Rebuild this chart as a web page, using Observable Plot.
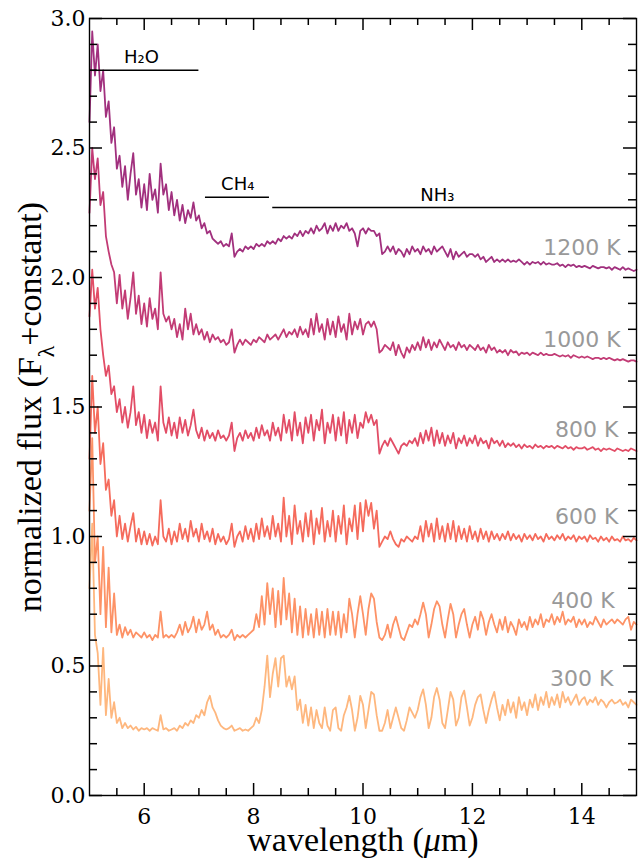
<!DOCTYPE html>
<html><head><meta charset="utf-8">
<script src="https://cdn.jsdelivr.net/npm/d3@7"></script>
<script src="https://cdn.jsdelivr.net/npm/@observablehq/plot@0.6"></script>
<style>body{margin:0;background:#fff;} svg{display:block}</style>
</head><body><div id="chart"></div>
<script>
// ---- data ----
const temperatures = ["1200 K","1000 K","800 K","600 K","400 K","300 K"];
// sampling grid: 5.00 ... 15.00 µm every 0.05 µm (201 samples)
const wavelength = d3.range(201).map(i => +(5 + i * 0.05).toFixed(2));

const flux1200 = [
2.60,2.95,2.78,2.90,2.72,2.80,2.62,2.68,2.52,2.58,
2.42,2.47,2.35,2.43,2.30,2.40,2.48,2.32,2.38,2.27,
2.36,2.26,2.40,2.30,2.34,2.25,2.44,2.32,2.36,2.26,
2.33,2.24,2.30,2.22,2.28,2.21,2.26,2.23,2.29,2.22,
2.24,2.19,2.21,2.17,2.18,2.15,2.14,2.13,2.14,2.12,
2.13,2.12,2.17,2.08,2.10,2.11,2.10,2.12,2.11,2.12,
2.11,2.13,2.12,2.13,2.12,2.14,2.13,2.14,2.13,2.15,
2.14,2.16,2.15,2.16,2.15,2.17,2.16,2.18,2.16,2.18,
2.17,2.19,2.17,2.20,2.18,2.19,2.21,2.17,2.20,2.18,
2.21,2.18,2.20,2.19,2.21,2.18,2.19,2.17,2.12,2.18,
2.19,2.17,2.19,2.18,2.18,2.16,2.17,2.09,2.10,2.12,
2.10,2.12,2.09,2.11,2.10,2.08,2.11,2.09,2.12,2.10,
2.11,2.09,2.12,2.10,2.11,2.09,2.12,2.10,2.11,2.12,
2.10,2.08,2.11,2.07,2.10,2.08,2.09,2.10,2.08,2.09,
2.09,2.08,2.09,2.07,2.08,2.06,2.07,2.08,2.06,2.07,
2.06,2.07,2.06,2.07,2.06,2.065,2.06,2.07,2.06,2.05,
2.06,2.05,2.06,2.055,2.06,2.05,2.06,2.05,2.055,2.05,
2.05,2.055,2.045,2.05,2.04,2.05,2.045,2.05,2.04,2.045,
2.04,2.045,2.04,2.035,2.045,2.04,2.035,2.04,2.04,2.035,
2.04,2.03,2.04,2.035,2.03,2.04,2.03,2.035,2.03,2.025,
2.03];

const flux1000 = [
2.25,2.50,2.38,2.46,2.28,2.33,2.16,2.10,2.05,2.02,
1.90,2.01,1.88,1.95,1.84,1.92,2.02,1.86,1.93,1.82,
1.90,1.81,1.92,1.84,1.88,1.80,2.02,1.86,1.83,1.85,
1.80,1.84,1.77,1.82,1.76,1.88,1.80,1.86,1.78,1.82,
1.78,1.80,1.76,1.79,1.75,1.78,1.76,1.77,1.75,1.76,
1.74,1.75,1.80,1.71,1.74,1.76,1.74,1.76,1.75,1.74,
1.76,1.75,1.77,1.76,1.75,1.78,1.76,1.77,1.78,1.76,
1.78,1.80,1.77,1.79,1.78,1.80,1.77,1.81,1.78,1.80,
1.77,1.84,1.78,1.86,1.79,1.82,1.76,1.84,1.78,1.83,
1.77,1.85,1.79,1.82,1.76,1.86,1.78,1.83,1.80,1.84,
1.78,1.82,1.83,1.81,1.83,1.80,1.71,1.72,1.74,1.73,
1.72,1.75,1.70,1.74,1.71,1.69,1.73,1.71,1.74,1.72,
1.75,1.72,1.77,1.73,1.76,1.72,1.75,1.73,1.76,1.74,
1.72,1.75,1.73,1.74,1.72,1.75,1.73,1.74,1.72,1.74,
1.73,1.72,1.74,1.72,1.73,1.71,1.74,1.72,1.73,1.71,
1.72,1.71,1.72,1.70,1.72,1.71,1.715,1.70,1.71,1.705,
1.71,1.70,1.71,1.705,1.70,1.71,1.70,1.705,1.70,1.70,
1.705,1.70,1.695,1.70,1.695,1.70,1.69,1.70,1.695,1.69,
1.695,1.69,1.695,1.69,1.685,1.69,1.69,1.685,1.69,1.685,
1.69,1.685,1.68,1.685,1.68,1.685,1.68,1.675,1.68,1.68,
1.675];

const flux800 = [
1.85,2.03,1.88,1.96,1.80,1.70,1.62,1.66,1.55,1.58,
1.48,1.53,1.44,1.50,1.42,1.48,1.58,1.43,1.48,1.40,
1.47,1.38,1.45,1.40,1.44,1.37,1.58,1.44,1.40,1.46,
1.39,1.44,1.38,1.46,1.40,1.45,1.39,1.43,1.49,1.41,
1.38,1.42,1.37,1.41,1.38,1.40,1.37,1.41,1.38,1.39,
1.37,1.39,1.44,1.33,1.38,1.40,1.37,1.41,1.38,1.40,
1.37,1.42,1.38,1.43,1.39,1.41,1.37,1.44,1.39,1.42,
1.37,1.47,1.40,1.45,1.37,1.48,1.39,1.44,1.36,1.46,
1.40,1.47,1.37,1.45,1.41,1.49,1.36,1.44,1.40,1.47,
1.37,1.46,1.39,1.48,1.36,1.45,1.40,1.47,1.38,1.44,
1.42,1.48,1.44,1.47,1.43,1.45,1.32,1.35,1.37,1.35,
1.38,1.36,1.34,1.32,1.35,1.36,1.35,1.37,1.36,1.38,
1.35,1.40,1.36,1.41,1.37,1.42,1.35,1.41,1.36,1.40,
1.35,1.39,1.36,1.40,1.34,1.38,1.36,1.39,1.35,1.38,
1.36,1.39,1.35,1.38,1.36,1.37,1.34,1.38,1.36,1.37,
1.35,1.37,1.345,1.36,1.35,1.36,1.345,1.355,1.34,1.355,
1.345,1.35,1.34,1.355,1.345,1.35,1.34,1.35,1.345,1.35,
1.34,1.35,1.345,1.34,1.35,1.34,1.345,1.335,1.345,1.34,
1.34,1.345,1.335,1.34,1.345,1.335,1.34,1.33,1.34,1.335,
1.34,1.335,1.33,1.34,1.335,1.33,1.335,1.33,1.34,1.335,
1.33];

const flux600 = [
1.30,1.62,1.40,1.50,1.28,1.36,1.18,1.22,1.08,1.14,
1.00,1.08,0.99,1.05,0.98,1.04,1.09,0.98,1.03,0.97,
1.02,0.97,1.01,0.965,1.00,0.97,1.14,1.00,0.98,1.03,
0.97,1.02,0.98,1.05,0.99,1.03,0.98,1.06,1.00,1.03,
0.98,1.05,0.99,1.02,0.98,1.03,0.97,1.01,0.98,1.00,
0.97,0.99,1.05,0.96,1.00,1.02,0.98,1.04,0.99,1.03,
0.98,1.05,0.99,1.07,1.00,1.04,0.99,1.08,1.00,1.05,
0.98,1.15,1.00,1.08,0.97,1.12,1.01,1.06,0.98,1.09,
1.00,1.10,0.97,1.07,1.01,1.11,0.98,1.06,1.00,1.10,
0.98,1.08,1.01,1.12,0.97,1.07,1.02,1.12,0.99,1.13,
1.02,1.14,1.08,1.13,1.03,1.10,0.96,0.98,1.00,0.99,
1.02,0.99,0.97,0.96,0.99,0.98,1.00,0.99,0.98,1.00,
0.99,1.04,0.98,1.06,1.00,1.05,0.98,1.07,0.99,1.04,
0.98,1.05,0.99,1.06,0.98,1.04,0.99,1.03,0.98,1.04,
0.99,1.02,0.98,1.03,0.99,1.02,0.98,1.02,0.99,1.01,
0.985,1.01,0.99,1.02,0.985,1.01,0.99,1.005,0.98,1.01,
0.99,1.005,0.985,1.01,0.99,1.00,0.98,1.01,0.99,1.00,
0.985,1.005,0.99,1.01,0.985,1.00,0.99,1.005,0.98,1.00,
0.99,1.00,0.98,1.005,0.99,0.995,0.98,1.00,0.985,0.995,
0.98,1.00,0.985,0.99,0.98,1.00,0.985,0.99,0.98,0.995,
0.985];

const flux400 = [
1.10,1.38,0.90,1.00,0.70,0.96,0.65,0.88,0.63,0.78,
0.62,0.66,0.61,0.65,0.62,0.64,0.61,0.63,0.62,0.61,
0.63,0.61,0.62,0.60,0.62,0.61,0.71,0.61,0.62,0.61,
0.62,0.61,0.63,0.66,0.62,0.67,0.63,0.65,0.69,0.63,
0.68,0.64,0.66,0.71,0.64,0.66,0.62,0.64,0.61,0.62,
0.61,0.62,0.64,0.60,0.62,0.61,0.62,0.61,0.62,0.63,
0.64,0.70,0.65,0.77,0.66,0.82,0.70,0.80,0.65,0.79,
0.66,0.84,0.68,0.78,0.63,0.76,0.62,0.73,0.61,0.72,
0.62,0.70,0.61,0.72,0.62,0.71,0.61,0.72,0.62,0.71,
0.62,0.71,0.61,0.70,0.63,0.76,0.70,0.61,0.70,0.77,
0.70,0.62,0.72,0.78,0.76,0.67,0.61,0.60,0.62,0.66,
0.61,0.66,0.69,0.65,0.61,0.60,0.63,0.66,0.65,0.68,
0.66,0.70,0.745,0.70,0.61,0.66,0.72,0.75,0.73,0.66,
0.61,0.68,0.74,0.70,0.61,0.66,0.70,0.72,0.66,0.61,
0.66,0.69,0.64,0.71,0.68,0.62,0.67,0.70,0.66,0.63,
0.68,0.64,0.69,0.63,0.67,0.65,0.62,0.68,0.65,0.67,
0.64,0.69,0.65,0.68,0.66,0.70,0.65,0.68,0.67,0.70,
0.66,0.69,0.67,0.71,0.66,0.68,0.67,0.69,0.65,0.68,
0.66,0.68,0.65,0.67,0.66,0.69,0.67,0.65,0.68,0.66,
0.67,0.68,0.665,0.68,0.67,0.66,0.68,0.69,0.64,0.67,
0.66];

const flux300 = [
0.80,1.05,0.62,0.55,0.35,0.57,0.31,0.45,0.30,0.36,
0.28,0.30,0.26,0.28,0.26,0.27,0.255,0.265,0.25,0.26,
0.255,0.26,0.25,0.26,0.255,0.25,0.31,0.255,0.26,0.25,
0.255,0.26,0.25,0.27,0.26,0.28,0.27,0.29,0.28,0.31,
0.30,0.33,0.31,0.36,0.385,0.34,0.32,0.29,0.27,0.26,
0.255,0.26,0.27,0.25,0.255,0.26,0.25,0.255,0.25,0.26,
0.27,0.30,0.28,0.33,0.42,0.54,0.38,0.47,0.53,0.42,
0.53,0.54,0.42,0.46,0.41,0.46,0.33,0.37,0.28,0.35,
0.27,0.34,0.26,0.33,0.28,0.26,0.34,0.27,0.25,0.33,
0.34,0.26,0.25,0.31,0.34,0.385,0.33,0.25,0.30,0.385,
0.35,0.26,0.33,0.40,0.39,0.31,0.25,0.25,0.28,0.33,
0.26,0.30,0.34,0.30,0.26,0.25,0.29,0.34,0.32,0.30,
0.33,0.38,0.41,0.35,0.26,0.30,0.38,0.415,0.37,0.28,
0.26,0.33,0.40,0.37,0.27,0.30,0.38,0.405,0.34,0.27,
0.30,0.35,0.38,0.39,0.33,0.28,0.33,0.37,0.40,0.34,
0.29,0.35,0.31,0.37,0.32,0.36,0.30,0.38,0.33,0.36,
0.31,0.37,0.34,0.39,0.33,0.38,0.35,0.40,0.34,0.38,
0.35,0.39,0.34,0.40,0.36,0.38,0.35,0.37,0.39,0.35,
0.37,0.38,0.35,0.37,0.36,0.38,0.35,0.37,0.36,0.34,
0.36,0.37,0.355,0.36,0.37,0.35,0.36,0.34,0.37,0.36,
0.35];

// temperature labels (gray, right-aligned)
const labelX = [14.71, 14.71, 14.67, 14.67, 14.60, 14.58];
const labelY = [2.116, 1.759, 1.411, 1.075, 0.753, 0.45];

// molecular band annotations
const bandNames  = ["H₂O", "CH₄", "NH₃"];
const bandStart  = [5.0, 7.12, 8.35];
const bandEnd    = [7.0, 8.29, 15.0];
const bandLevel  = [2.8, 2.31, 2.27];
const bandLabelX = [5.95, 7.71, 11.36];

// axes
const xDomain = [5, 15], yDomain = [0, 3];
const xMajor = [6, 8, 10, 12, 14];
const xMinor = [5.5, 6.5, 7, 7.5, 8.5, 9, 9.5, 10.5, 11, 11.5, 12.5, 13, 13.5, 14.5];
const yMajor = [0, 0.5, 1.0, 1.5, 2.0, 2.5, 3.0];
const yMinor = [0.1,0.2,0.3,0.4,0.6,0.7,0.8,0.9,1.1,1.2,1.3,1.4,1.6,1.7,1.8,1.9,2.1,2.2,2.3,2.4,2.6,2.7,2.8,2.9];
const xLabel = "wavelength (μm)";
const yLabel = "normalized flux (Fλ+constant)";

// ---- build tables ----
const fluxBySeries = [flux1200, flux1000, flux800, flux600, flux400, flux300];
const spectra = temperatures.flatMap((t, s) => wavelength.map((w, i) => ({t, w, f: fluxBySeries[s][i]})));
const tempLabels = temperatures.map((t, i) => ({t, x: labelX[i], y: labelY[i]}));
const bands = bandNames.map((name, i) => ({name, start: bandStart[i], end: bandEnd[i], level: bandLevel[i], lx: bandLabelX[i]}));
const colors = [0.45, 0.53, 0.61, 0.69, 0.77, 0.85].map(d3.interpolateMagma);

const serif = "DejaVu Serif";
const labelSerif = "Liberation Serif";
const sans = "DejaVu Sans";

// layout (pixels)
const W = 642, H = 861, mL = 89, mR = 6, mT = 18, mB = 66;
const frameW = W - mL - mR, frameH = H - mT - mB;
// tick lengths in pixels, converted to data units of each axis so the ticks point inward
const MAJ = 12, MIN = 7;
const xSpan = xDomain[1] - xDomain[0], ySpan = yDomain[1] - yDomain[0];
const yLen = px => px * ySpan / frameH;
const xLen = px => px * xSpan / frameW;
const tickStyle = {stroke: "black", strokeWidth: 1.5};

const tickMarks = [
  Plot.ruleX(xMajor, {x: d => d, y1: yDomain[0], y2: yDomain[0] + yLen(MAJ), ...tickStyle}),
  Plot.ruleX(xMinor, {x: d => d, y1: yDomain[0], y2: yDomain[0] + yLen(MIN), ...tickStyle}),
  Plot.ruleX(xMajor, {x: d => d, y1: yDomain[1] - yLen(MAJ), y2: yDomain[1], ...tickStyle}),
  Plot.ruleX(xMinor, {x: d => d, y1: yDomain[1] - yLen(MIN), y2: yDomain[1], ...tickStyle}),
  Plot.ruleY(yMajor, {y: d => d, x1: xDomain[0], x2: xDomain[0] + xLen(MAJ + 1), ...tickStyle}),
  Plot.ruleY(yMinor, {y: d => d, x1: xDomain[0], x2: xDomain[0] + xLen(MIN + 1), ...tickStyle}),
  Plot.ruleY(yMajor, {y: d => d, x1: xDomain[1] - xLen(MAJ + 1), x2: xDomain[1], ...tickStyle}),
  Plot.ruleY(yMinor, {y: d => d, x1: xDomain[1] - xLen(MIN + 1), x2: xDomain[1], ...tickStyle})
];

const chart = Plot.plot({
  width: W, height: H,
  marginLeft: mL, marginRight: mR, marginTop: mT, marginBottom: mB,
  style: {fontFamily: serif, background: "#fff", color: "#000"},
  x: {domain: xDomain},
  y: {domain: yDomain},
  color: {domain: temperatures, range: colors},
  marks: [
    Plot.line(spectra, {x: "w", y: "f", z: "t", stroke: "t", strokeWidth: 1.8}),
    Plot.ruleY(bands, {y: "level", x1: "start", x2: "end", stroke: "#000", strokeWidth: 1.6}),
    Plot.text(bands, {x: "lx", y: "level", text: "name", dy: -7, lineAnchor: "bottom", fontFamily: sans, fontSize: 18, fill: "#000"}),
    Plot.text(tempLabels, {x: "x", y: "y", text: "t", textAnchor: "end", lineAnchor: "middle", fontFamily: sans, fontSize: 22, fill: "#999"}),
    ...tickMarks,
    Plot.axisX(xMajor, {anchor: "bottom", tickSize: 0, tickPadding: 13, label: null, fontSize: 22, fontFamily: serif, tickFormat: d => String(d)}),
    Plot.axisY(yMajor, {anchor: "left", tickSize: 0, tickPadding: 4, label: null, fontSize: 22, fontFamily: serif, tickFormat: d3.format(".1f")}),
    Plot.frame({stroke: "#000", strokeWidth: 1.4}),
    Plot.text([xLabel], {frameAnchor: "bottom", dy: 45, lineAnchor: "middle", textAnchor: "middle", text: d => d, fontFamily: labelSerif, fontSize: 34, fill: "#000"}),
    Plot.text([yLabel], {frameAnchor: "left", dx: -59, rotate: -90, lineAnchor: "middle", textAnchor: "middle", text: d => d, fontFamily: labelSerif, fontSize: 34, fill: "#000"})
  ]
});

// typographic touches: subscript λ, italic μ
const NS = "http://www.w3.org/2000/svg";
function rich(textEl, parts) {
  while (textEl.firstChild) textEl.removeChild(textEl.firstChild);
  for (const [s, attrs] of parts) {
    const ts = document.createElementNS(NS, "tspan");
    ts.textContent = s;
    for (const k in attrs) ts.setAttribute(k, attrs[k]);
    textEl.appendChild(ts);
  }
}
chart.querySelectorAll("text").forEach(el => {
  if (el.textContent === yLabel) {
    rich(el, [["normalized flux (F", {}], ["λ", {"baseline-shift": "sub", "font-size": "70%"}], ["+constant)", {}]]);
  } else if (el.textContent === xLabel) {
    rich(el, [["wavelength (", {}], ["μ", {"font-style": "italic"}], ["m)", {}]]);
  }
});
document.getElementById("chart").appendChild(chart);
</script>
</body></html>
